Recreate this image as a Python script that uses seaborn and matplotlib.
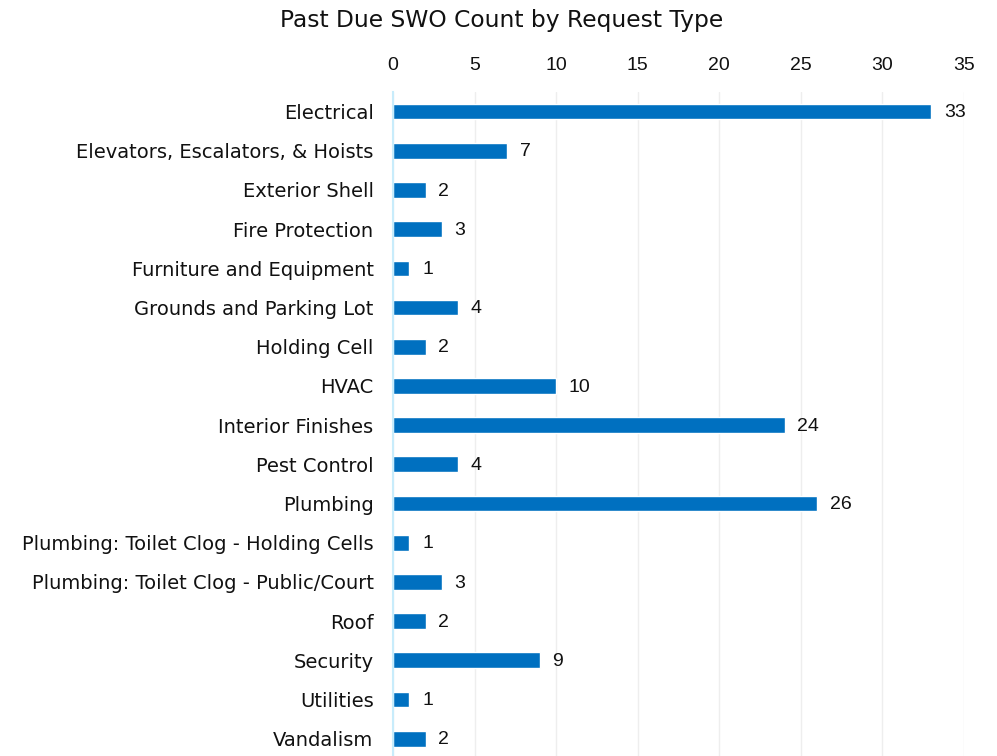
import matplotlib
matplotlib.use("Agg")
import matplotlib.pyplot as plt
import seaborn as sns
import pandas as pd

categories = ["Electrical", "Elevators, Escalators, & Hoists", "Exterior Shell", "Fire Protection",
              "Furniture and Equipment", "Grounds and Parking Lot", "Holding Cell", "HVAC",
              "Interior Finishes", "Pest Control", "Plumbing", "Plumbing: Toilet Clog - Holding Cells",
              "Plumbing: Toilet Clog - Public/Court", "Roof", "Security", "Utilities", "Vandalism"]
counts = [33, 7, 2, 3, 1, 4, 2, 10, 24, 4, 26, 1, 3, 2, 9, 1, 2]
xticks = [0, 5, 10, 15, 20, 25, 30, 35]

df = pd.DataFrame({"cat": categories, "count": counts})

sns.set_theme(style="white")
plt.rcParams['font.family'] = ['DejaVu Sans']

fig = plt.figure(figsize=(9.97, 7.56), dpi=100)
ax = fig.add_axes([393/997, -0.003, (964-393)/997, 1 - 92/756 + 0.003])

sns.barplot(data=df, x="count", y="cat", color="#0070C0", width=0.4, ax=ax, saturation=1, orient="h")

ax.set_xlim(0, 35)
ax.set_ylim(len(categories) - 0.5, -0.5)
ax.xaxis.tick_top()
ax.set_xticks(xticks)
ax.set_xticklabels([str(t) for t in xticks], family="Liberation Sans", fontsize=14, color="#111111")
ax.tick_params(axis="x", length=0, pad=13)
ax.tick_params(axis="y", length=0, pad=14, labelsize=14, labelcolor="#111111")
ax.set_xlabel("")
ax.set_ylabel("")
ax.grid(axis="x", color="#eeeeee", linewidth=1)
ax.set_axisbelow(True)
for s in ["top", "right", "bottom"]:
    ax.spines[s].set_visible(False)
ax.spines["left"].set_color("#c8ecfb")
ax.spines["left"].set_linewidth(1.5)

for i, v in enumerate(counts):
    ax.text(v + 0.78, i + 0.03, str(v), va="center", ha="left", family="Liberation Sans", fontsize=14, color="#111111")

fig.text(502/997, 1 - 20/756, "Past Due SWO Count by Request Type", ha="center", va="center", fontsize=16.8, color="#111111")

fig.savefig("out.png", dpi=100)
